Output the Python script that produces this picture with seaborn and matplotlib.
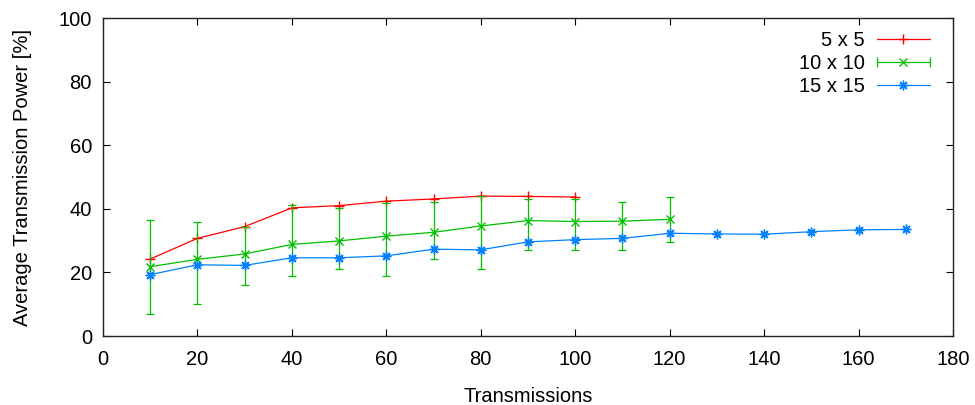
import matplotlib.pyplot as plt
import seaborn as sns
import pandas as pd
from matplotlib.lines import Line2D
from matplotlib.legend_handler import HandlerLine2D

# data
x_5 = [10, 20, 30, 40, 50, 60, 70, 80, 90, 100]
power_5 = [24.2, 30.7, 34.4, 40.3, 41.0, 42.4, 43.1, 44.0, 43.9, 43.7]

x_10 = [10, 20, 30, 40, 50, 60, 70, 80, 90, 100, 110, 120]
power_10 = [21.8, 24.1, 25.8, 28.8, 29.9, 31.4, 32.6, 34.6, 36.3, 36.0, 36.1, 36.7]
err_hi_10 = [36.5, 35.8, 34.4, 41.1, 40.2, 41.9, 42.0, 44.0, 43.0, 43.1, 42.0, 43.6]
err_lo_10 = [6.9, 10.1, 16.1, 19.0, 21.1, 19.0, 24.1, 21.1, 27.0, 27.0, 27.0, 29.7]

x_15 = [10, 20, 30, 40, 50, 60, 70, 80, 90, 100, 110, 120, 130, 140, 150, 160, 170]
power_15 = [19.3, 22.4, 22.2, 24.6, 24.6, 25.2, 27.3, 27.1, 29.6, 30.3, 30.7, 32.3,
            32.1, 32.0, 32.8, 33.4, 33.5]

df5 = pd.DataFrame({'Transmissions': x_5, 'Power': power_5})
df10 = pd.DataFrame({'Transmissions': x_10, 'Power': power_10})
df15 = pd.DataFrame({'Transmissions': x_15, 'Power': power_15})

sns.set_style("ticks")
plt.rcParams['font.family'] = ['Liberation Sans', 'DejaVu Sans']
plt.rcParams['font.size'] = 14.5
plt.rcParams['text.color'] = 'black'
plt.rcParams['axes.labelcolor'] = 'black'

fig = plt.figure(figsize=(9.75, 4.05), dpi=100)
ax = fig.add_axes([103 / 975, 1 - 336 / 405, 850 / 975, 318 / 405])

red, green, blue = '#ff0000', '#00c000', '#0080ff'
blue_marker = (8, 2, 0)

sns.lineplot(data=df5, x='Transmissions', y='Power', ax=ax, color=red,
             marker='+', markersize=7, markeredgewidth=1, markeredgecolor=red,
             linewidth=0.9)
yerr = [[p - lo for p, lo in zip(power_10, err_lo_10)],
        [hi - p for p, hi in zip(power_10, err_hi_10)]]
ax.errorbar(df10['Transmissions'], df10['Power'], yerr=yerr, color=green,
            linewidth=0.9, elinewidth=0.9, capsize=3, capthick=0.9, fmt='none')
sns.lineplot(data=df10, x='Transmissions', y='Power', ax=ax, color=green,
             marker='x', markersize=6, markeredgewidth=1, markeredgecolor=green,
             linewidth=0.9)
sns.lineplot(data=df15, x='Transmissions', y='Power', ax=ax, color=blue,
             marker=blue_marker, markersize=7, markeredgewidth=1,
             markeredgecolor=blue, linewidth=0.9)

ax.set_xlim(0, 180)
ax.set_ylim(0, 100)
ax.set_xticks(range(0, 181, 20))
ax.set_yticks(range(0, 101, 20))
ax.set_xlabel('Transmissions', labelpad=13)
ax.set_ylabel('Average Transmission Power [%]', labelpad=19)
ax.tick_params(direction='in', length=5, width=0.8, top=True, right=True,
               labelsize=14.5, colors='black')
ax.tick_params(axis='x', pad=10)
ax.tick_params(axis='y', pad=8)
for s in ax.spines.values():
    s.set_linewidth(1)
    s.set_color('#222222')

# legend proxies in the gnuplot style (horizontal error bar for 10 x 10)
h_red = Line2D([], [], color=red, marker='+', markersize=7, markeredgewidth=1, linewidth=0.9)
h_green = Line2D([], [], color=green, marker='x', markersize=6, markeredgewidth=1, linewidth=0.9)
h_caps = Line2D([], [], color=green, marker='|', markersize=7, markeredgewidth=0.9, linestyle='none')
h_blue = Line2D([], [], color=blue, marker=blue_marker, markersize=7, markeredgewidth=1, linewidth=0.9)

ax.legend([h_red, (h_green, h_caps), h_blue], ['5 x 5', '10 x 10', '15 x 15'],
          handler_map={h_caps: HandlerLine2D(numpoints=2, marker_pad=0)},
          loc='upper right', bbox_to_anchor=(0.973, 0.96), frameon=False,
          markerfirst=False, numpoints=1, handlelength=2.65, handletextpad=0.6,
          labelspacing=0.21, borderpad=0, borderaxespad=0, fontsize=14.5)

plt.savefig("out.png", dpi=100)
